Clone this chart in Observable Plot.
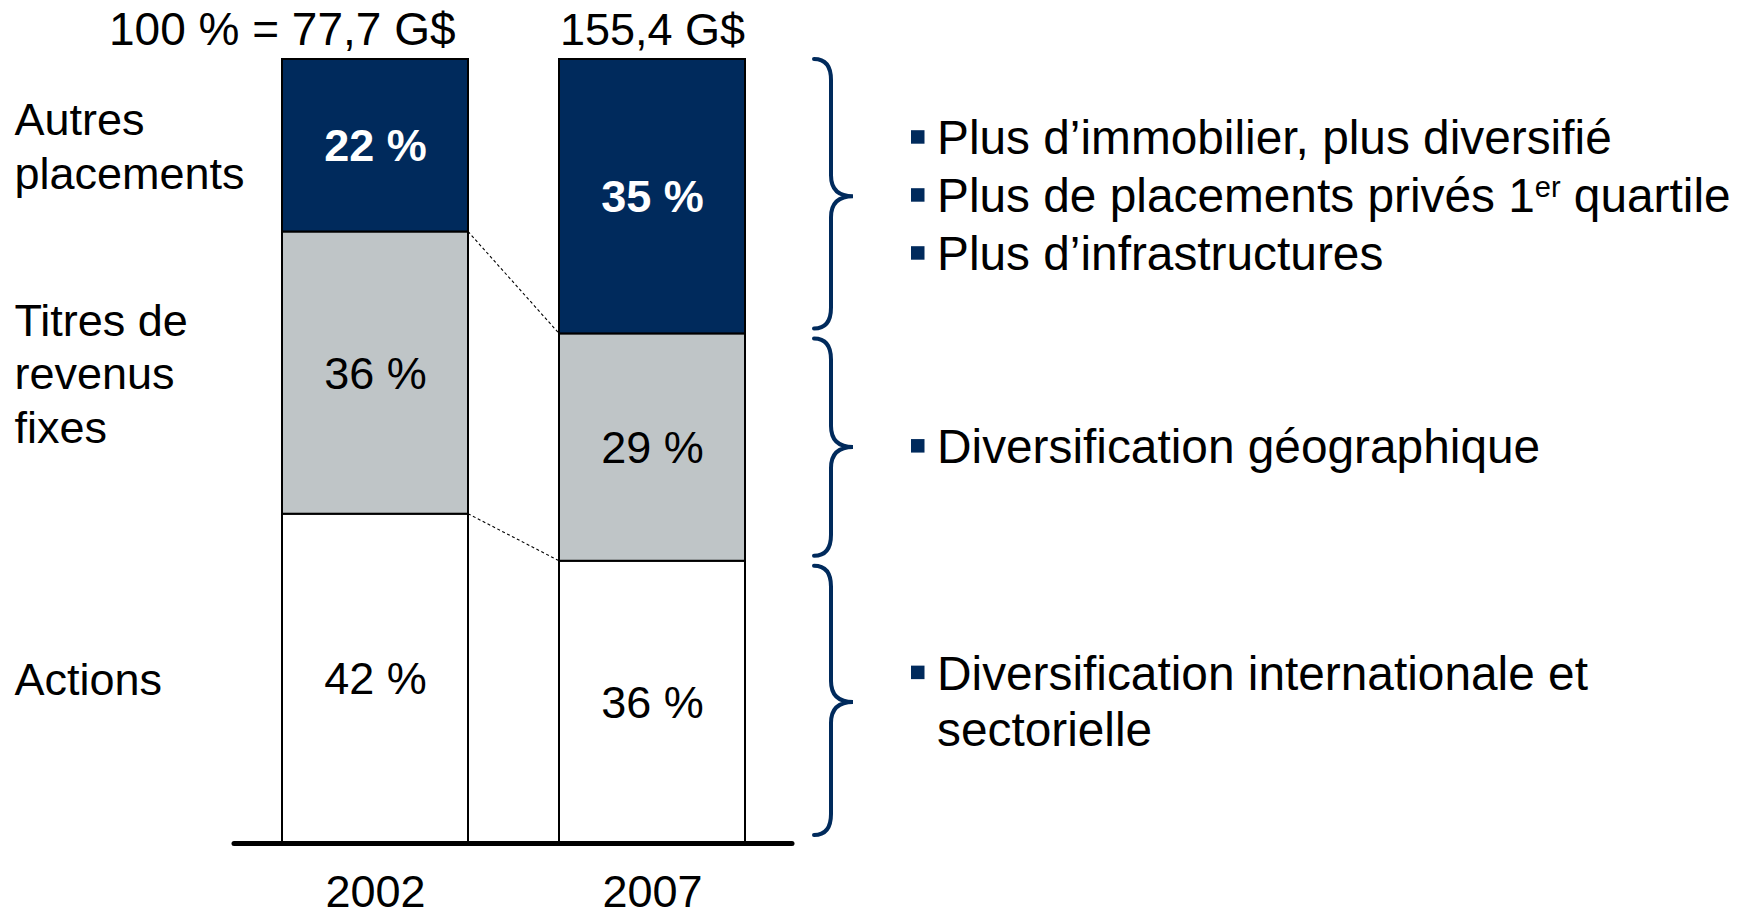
<!DOCTYPE html>
<html>
<head>
<meta charset="utf-8">
<script src="https://cdn.jsdelivr.net/npm/d3@7"></script>
<script src="https://cdn.jsdelivr.net/npm/@observablehq/plot@0.6"></script>
<style>
  html, body { margin: 0; padding: 0; background: #ffffff; }
  #chart svg { display: block; }
</style>
</head>
<body>
<div id="chart"></div>
<script>
// ---- data ----
const years = ["2002", "2007"];
const categories = ["Actions", "Titres de revenus fixes", "Autres placements"];
const categoryLabels = ["Actions", "Titres de\nrevenus\nfixes", "Autres\nplacements"];
const shares2002 = [42, 36, 22];
const shares2007 = [36, 29, 35];
const totals = ["77,7 G$", "155,4 G$"];
const totalPrefix = "100 % = ";
const colors = ["#ffffff", "#bfc5c7", "#002a5c"];
const navy = "#002a5c";
// notes per category (bottom to top); "^" marks a superscript part
const notesActions = [{bullet: true, text: "Diversification internationale et"}, {bullet: false, text: "sectorielle"}];
const notesTitres = [{bullet: true, text: "Diversification géographique"}];
const notesAutres = [
  {bullet: true, text: "Plus d’immobilier, plus diversifié"},
  {bullet: true, text: "Plus de placements privés 1^er^ quartile"},
  {bullet: true, text: "Plus d’infrastructures"}
];
const notes = [notesActions, notesTitres, notesAutres];

const series = [shares2002, shares2007];
const data = years.flatMap((year, i) => categories.map((cat, j) => ({year, cat, value: series[i][j]})));
const totalsData = years.map((year, i) => ({year, total: totals[i]}));

const FONT = "'Liberation Sans', Arial, Helvetica, sans-serif";
const FS = 45;
const FS_NOTES = 47.8;

function cumulative(arr) {
  const out = [0];
  for (const v of arr) out.push(out[out.length - 1] + v);
  return out;
}

// custom mark: dashed connectors, braces and bullet notes (positions via Plot scales)
function annotations(index, scales, values, dimensions) {
  const ns = "http://www.w3.org/2000/svg";
  const x = scales.x, y = scales.y;
  const bw = x.bandwidth();
  const g = document.createElementNS(ns, "g");
  g.setAttribute("text-anchor", "start");
  const c1 = cumulative(shares2002), c2 = cumulative(shares2007);
  const x1r = x(years[0]) + bw, x2l = x(years[1]), x2r = x(years[1]) + bw;

  // dashed connectors between segment boundaries
  for (let k = 1; k < categories.length; k++) {
    const l = document.createElementNS(ns, "line");
    l.setAttribute("x1", x1r); l.setAttribute("y1", y(c1[k]));
    l.setAttribute("x2", x2l); l.setAttribute("y2", y(c2[k]));
    l.setAttribute("stroke", "#000");
    l.setAttribute("stroke-width", 1.1);
    l.setAttribute("stroke-dasharray", "3,2.5");
    g.appendChild(l);
  }

  const hookX = x2r + 69, spineX = x2r + 86, tipX = x2r + 108;
  const bulletX = x2r + 166, textX = x2r + 192;

  for (let k = 0; k < categories.length; k++) {
    const yTop = y(c2[k + 1]), yBot = y(c2[k]);
    const top = yTop + (k === categories.length - 1 ? 0 : 5);
    const bot = yBot - (k === 0 ? 8 : 5);
    const mid = (yTop + yBot) / 2;
    const r = 21;
    const p = document.createElementNS(ns, "path");
    p.setAttribute("d",
      `M${hookX},${top} Q${spineX},${top} ${spineX},${top + r} L${spineX},${mid - r} ` +
      `Q${spineX},${mid} ${tipX},${mid} Q${spineX},${mid} ${spineX},${mid + r} ` +
      `L${spineX},${bot - r} Q${spineX},${bot} ${hookX},${bot}`);
    p.setAttribute("fill", "none");
    p.setAttribute("stroke", navy);
    p.setAttribute("stroke-width", 4);
    p.setAttribute("stroke-linecap", "round");
    g.appendChild(p);

    const lines = notes[k];
    const n = lines.length;
    const lh = n > 2 ? 58 : 56.5;
    lines.forEach((ln, i) => {
      const base = mid + (i - (n - 1) / 2) * lh + 16;
      if (ln.bullet) {
        const s = document.createElementNS(ns, "rect");
        s.setAttribute("x", bulletX); s.setAttribute("y", base - 24);
        s.setAttribute("width", 13.5); s.setAttribute("height", 13.5);
        s.setAttribute("fill", navy);
        g.appendChild(s);
      }
      const t = document.createElementNS(ns, "text");
      t.setAttribute("x", textX); t.setAttribute("y", base);
      t.setAttribute("text-anchor", "start");
      t.setAttribute("font-family", FONT);
      t.setAttribute("font-size", FS_NOTES);
      t.setAttribute("fill", "#000");
      const parts = ln.text.split("^");
      parts.forEach((part, pi) => {
        const ts = document.createElementNS(ns, "tspan");
        ts.textContent = part;
        if (pi % 2 === 1) {
          ts.setAttribute("font-size", 29);
          ts.setAttribute("dy", -15);
        } else if (pi > 0) {
          ts.setAttribute("dy", 15);
        }
        t.appendChild(ts);
      });
      g.appendChild(t);
    });
  }
  return g;
}

const chart = Plot.plot({
  width: 1754,
  height: 912,
  marginLeft: 234,
  marginRight: 962,
  marginTop: 59,
  marginBottom: 69,
  x: {domain: years, paddingInner: 0.33, paddingOuter: 0.17, axis: null},
  y: {domain: [0, 100], axis: null},
  color: {domain: categories, range: colors},
  style: {fontFamily: FONT, fontSize: FS + "px", background: "#ffffff", color: "#000"},
  marks: [
    Plot.barY(data, Plot.stackY({x: "year", y: "value", fill: "cat", stroke: "#000", strokeWidth: 2})),
    Plot.text(data, Plot.stackY({x: "year", y: "value",
      text: d => d.cat === categories[2] ? `${d.value} %` : null,
      fill: "#ffffff", fontWeight: "bold", fontSize: FS, dy: 1})),
    Plot.text(data, Plot.stackY({x: "year", y: "value",
      text: d => d.cat !== categories[2] ? `${d.value} %` : null,
      fill: "#000", fontSize: FS, dy: 1})),
    Plot.text(data, Plot.stackY({x: "year", y: "value",
      text: d => d.year === years[0] ? categoryLabels[categories.indexOf(d.cat)] : null,
      textAnchor: "start", dx: -361, dy: -1, lineHeight: 1.19, fill: "#000", fontSize: FS})),
    Plot.text(totalsData.slice(0, 1), {x: "year", frameAnchor: "top", text: d => totalPrefix + d.total,
      textAnchor: "end", dx: 80, lineAnchor: "bottom", dy: -15, fill: "#000", fontSize: 46}),
    Plot.text(totalsData.slice(1), {x: "year", frameAnchor: "top", text: "total",
      lineAnchor: "bottom", dy: -15, fill: "#000", fontSize: FS}),
    Plot.text(years, {x: d => d, frameAnchor: "bottom", lineAnchor: "bottom", dy: 63, fill: "#000", fontSize: FS}),
    Plot.ruleY([0], {stroke: "#000", strokeWidth: 5, strokeLinecap: "round"}),
    annotations
  ]
});
document.getElementById("chart").appendChild(chart);
</script>
</body>
</html>
